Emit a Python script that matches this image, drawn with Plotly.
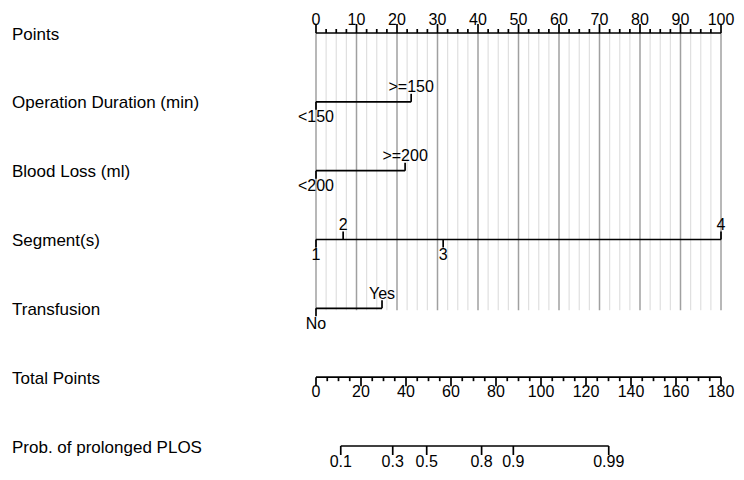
import plotly.graph_objects as go

# ---------------- data ----------------
row_names = ["Points", "Operation Duration (min)", "Blood Loss (ml)", "Segment(s)",
             "Transfusion", "Total Points", "Prob. of prolonged PLOS"]

points_major = [0, 10, 20, 30, 40, 50, 60, 70, 80, 90, 100]
points_minor = [2.5, 5, 7.5, 12.5, 15, 17.5, 22.5, 25, 27.5, 32.5, 35, 37.5, 42.5, 45, 47.5,
                52.5, 55, 57.5, 62.5, 65, 67.5, 72.5, 75, 77.5, 82.5, 85, 87.5, 92.5, 95, 97.5]

op_levels = ["<150", ">=150"]
op_points = [0, 23.5]
op_side = ["below", "above"]

blood_levels = ["<200", ">=200"]
blood_points = [0, 22.0]
blood_side = ["below", "above"]

seg_levels = ["1", "2", "3", "4"]
seg_points = [0, 6.7, 31.4, 100]
seg_side = ["below", "above", "below", "above"]

trans_levels = ["No", "Yes"]
trans_points = [0, 16.3]
trans_side = ["below", "above"]

total_major = [0, 20, 40, 60, 80, 100, 120, 140, 160, 180]
total_minor = [5, 10, 15, 25, 30, 35, 45, 50, 55, 65, 70, 75, 85, 90, 95, 105, 110, 115,
               125, 130, 135, 145, 150, 155, 165, 170, 175]

prob_labels = ["0.1", "0.3", "0.5", "0.8", "0.9", "0.99"]
prob_total_points = [11.0, 34.1, 49.2, 73.6, 87.7, 130.1]

# ---------------- styling / geometry ----------------
W, H = 744, 480
OFF = 8                               # page body margin compensation
X0_PX, X100_PX = 316 - OFF, 721 - OFF  # points 0 and 100 in pixels
PX_PER_PT = (X100_PX - X0_PX) / 100.0
PX_PER_TOT = (X100_PX - X0_PX) / 180.0
ROW0_PX, ROW6_PX = 33 - OFF, 446 - OFF
PX_PER_ROW = (ROW6_PX - ROW0_PX) / 6.0

def py(px):  # pixel offset -> row units
    return px / PX_PER_ROW

FONT = "Liberation Sans, Arial, sans-serif"
LABEL_SIZE = 17
TICK_SIZE = 16
LW = 1.7

fig = go.Figure()

def seg_trace(xs, ys, color, width, xaxis="x"):
    fig.add_trace(go.Scatter(x=xs, y=ys, mode="lines", xaxis=xaxis, yaxis="y",
                             line=dict(color=color, width=width), hoverinfo="skip",
                             showlegend=False))

def text_trace(xs, ys, texts, xaxis="x", size=TICK_SIZE):
    fig.add_trace(go.Scatter(x=xs, y=ys, text=texts, mode="text", xaxis=xaxis, yaxis="y",
                             textposition="middle center",
                             textfont=dict(family=FONT, size=size, color="black"),
                             hoverinfo="skip", showlegend=False))

# grid lines
grid_bottom = 4 + py(2)
xs, ys = [], []
for v in points_minor:
    xs += [v, v, None]; ys += [0, grid_bottom, None]
seg_trace(xs, ys, "#e0e0e0", 1.2)
xs, ys = [], []
for v in points_major:
    xs += [v, v, None]; ys += [0, grid_bottom, None]
seg_trace(xs, ys, "#a0a0a0", 1.5)

# Points axis
r = 0
seg_trace([points_major[0], points_major[-1]], [r, r], "black", LW)
xs, ys = [], []
for v in points_minor:
    xs += [v, v, None]; ys += [r, r - py(4), None]
for v in points_major:
    xs += [v, v, None]; ys += [r, r - py(9), None]
seg_trace(xs, ys, "black", LW)
text_trace(points_major, [r - py(12)] * len(points_major), [str(v) for v in points_major])

# categorical / variable rows
def var_row(r, levels, pts, sides):
    seg_trace([min(pts), max(pts)], [r, r], "black", LW)
    xs, ys = [], []
    tx, ty = [], []
    for lv, p, s in zip(levels, pts, sides):
        d = -1 if s == "above" else 1
        xs += [p, p, None]; ys += [r, r + d * py(8), None]
        tx.append(p); ty.append(r + (-py(13.5) if s == "above" else py(16.5)))
    seg_trace(xs, ys, "black", LW)
    text_trace(tx, ty, levels)

var_row(1, op_levels, op_points, op_side)
var_row(2, blood_levels, blood_points, blood_side)
var_row(3, seg_levels, seg_points, seg_side)
var_row(4, trans_levels, trans_points, trans_side)

# Total points axis
r = 5
seg_trace([total_major[0], total_major[-1]], [r, r], "black", LW, "x2")
xs, ys = [], []
for v in total_minor:
    xs += [v, v, None]; ys += [r, r + py(4), None]
for v in total_major:
    xs += [v, v, None]; ys += [r, r + py(9), None]
seg_trace(xs, ys, "black", LW, "x2")
text_trace(total_major, [r + py(16)] * len(total_major), [str(v) for v in total_major], "x2")

# Probability axis
r = 6
seg_trace([prob_total_points[0], prob_total_points[-1]], [r, r], "black", LW, "x2")
xs, ys = [], []
for v in prob_total_points:
    xs += [v, v, None]; ys += [r, r + py(9), None]
seg_trace(xs, ys, "black", LW, "x2")
text_trace(prob_total_points, [r + py(16.5)] * len(prob_total_points), prob_labels, "x2")

# row names
for i, name in enumerate(row_names):
    fig.add_annotation(x=(10 - OFF) / W, xref="paper", y=i + py(1), yref="y", text=name,
                       showarrow=False, xanchor="left", yanchor="middle",
                       font=dict(family=FONT, size=LABEL_SIZE, color="black"))

fig.update_layout(
    width=W, height=H, margin=dict(l=0, r=0, t=0, b=0),
    paper_bgcolor="white", plot_bgcolor="white",
    xaxis=dict(range=[-X0_PX / PX_PER_PT, (W - X0_PX) / PX_PER_PT], visible=False),
    xaxis2=dict(range=[-X0_PX / PX_PER_TOT, (W - X0_PX) / PX_PER_TOT], visible=False,
                overlaying="x"),
    yaxis=dict(range=[(H - ROW0_PX) / PX_PER_ROW, -ROW0_PX / PX_PER_ROW], visible=False),
    showlegend=False,
)

fig.write_html("out.html")
